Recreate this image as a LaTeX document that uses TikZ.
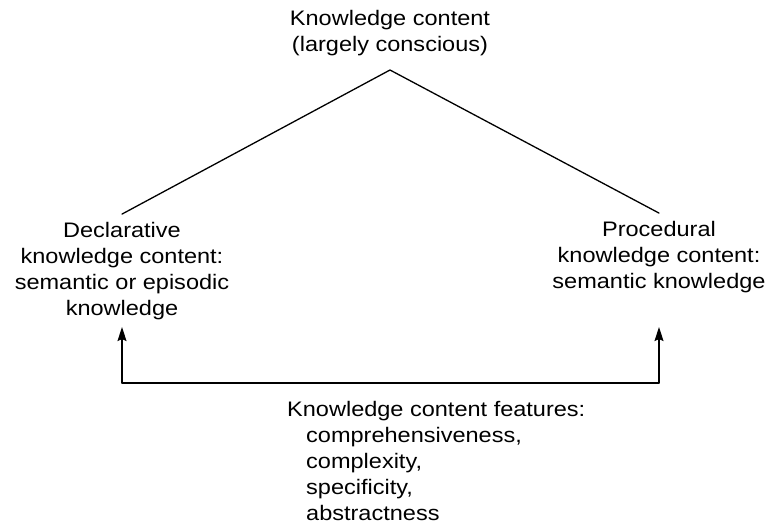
\documentclass[tikz,border=0pt]{standalone}
\usepackage{fontspec}
\setmainfont[FakeStretch=1.12]{Liberation Sans}
\usetikzlibrary{arrows.meta}
\begin{document}
\begin{tikzpicture}[x=1pt,y=-1pt,
  label text/.style={font=\fontsize{21pt}{26pt}\selectfont, align=center, inner sep=0pt},
  block/.style={label text, inner sep=7.5pt},
  link/.style={line width=1.3pt, line cap=round, line join=miter},
  lift/.style={link, -{Stealth[length=14pt,width=9pt,inset=2pt]}}
]
\useasboundingbox (0,0) rectangle (770,527);

% top concept and its two kinds (base = baseline of the last line)
\node[label text, anchor=base] (title) at (390,52) {Knowledge content\\(largely conscious)};
\coordinate (apex) at (390,70);

\node[block, anchor=base] (decl) at (122,315)
  {Declarative\\knowledge content:\\semantic or episodic\\knowledge};
\node[block, anchor=base] (proc) at (659,288)
  {Procedural\\knowledge content:\\semantic knowledge};

\draw[link] (decl.north) -- (apex) -- (proc.north);

% features acting on both kinds
\coordinate (lc) at (122,383);
\coordinate (rc) at (659,383);
\draw[link] (lc) -- (rc);
\draw[lift] (lc) -- (decl.south);
\draw[lift] (rc) -- (rc |- decl.south);

\node[label text, align=left, anchor=base west] (feat) at (287,520)
  {Knowledge content features:\\
   \hspace*{19pt}comprehensiveness,\\
   \hspace*{19pt}complexity,\\
   \hspace*{19pt}specificity,\\
   \hspace*{19pt}abstractness};
\end{tikzpicture}
\end{document}
